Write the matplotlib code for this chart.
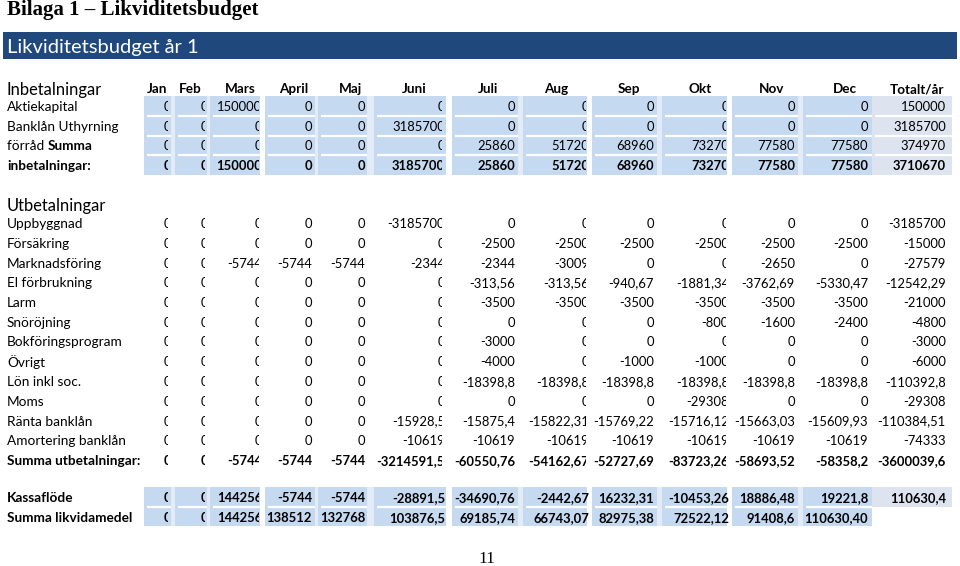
import matplotlib
matplotlib.use("Agg")
import matplotlib.pyplot as plt
from matplotlib.patches import Rectangle
from matplotlib.transforms import Bbox

# ---------------- data ----------------
months = ["Jan", "Feb", "Mars", "April", "Maj", "Juni", "Juli", "Aug", "Sep", "Okt", "Nov", "Dec"]
total_header = "Totalt/år"

title = "Bilaga 1 – Likviditetsbudget"
banner = "Likviditetsbudget år 1"
section_in = "Inbetalningar"
section_out = "Utbetalningar"
page_number = "11"

# Inbetalningar
aktiekapital = [0, 0, 150000, 0, 0, 0, 0, 0, 0, 0, 0, 0]
aktiekapital_tot = 150000
banklan = [0, 0, 0, 0, 0, 3185700, 0, 0, 0, 0, 0, 0]
banklan_tot = 3185700
uthyrning = [0, 0, 0, 0, 0, 0, 25860, 51720, 68960, 73270, 77580, 77580]
uthyrning_tot = 374970
summa_in = [0, 0, 150000, 0, 0, 3185700, 25860, 51720, 68960, 73270, 77580, 77580]
summa_in_tot = 3710670

# Utbetalningar
uppbyggnad = [0, 0, 0, 0, 0, -3185700, 0, 0, 0, 0, 0, 0]
forsakring = [0, 0, 0, 0, 0, 0, -2500, -2500, -2500, -2500, -2500, -2500]
marknadsforing = [0, 0, -5744, -5744, -5744, -2344, -2344, -3009, 0, 0, -2650, 0]
el = [0, 0, 0, 0, 0, 0, -313.56, -313.56, -940.67, -1881.34, -3762.69, -5330.47]
larm = [0, 0, 0, 0, 0, 0, -3500, -3500, -3500, -3500, -3500, -3500]
snorojning = [0, 0, 0, 0, 0, 0, 0, 0, 0, -800, -1600, -2400]
bokforing = [0, 0, 0, 0, 0, 0, -3000, 0, 0, 0, 0, 0]
ovrigt = [0, 0, 0, 0, 0, 0, -4000, 0, -1000, -1000, 0, 0]
lon = [0, 0, 0, 0, 0, 0, -18398.8, -18398.8, -18398.8, -18398.8, -18398.8, -18398.8]
moms = [0, 0, 0, 0, 0, 0, 0, 0, 0, -29308, 0, 0]
ranta = [0, 0, 0, 0, 0, -15928.5, -15875.4, -15822.31, -15769.22, -15716.12, -15663.03, -15609.93]
amortering = [0, 0, 0, 0, 0, -10619, -10619, -10619, -10619, -10619, -10619, -10619]
summa_ut = [0, 0, -5744, -5744, -5744, -3214591.5, -60550.76, -54162.67, -52727.69,
            -83723.26, -58693.52, -58358.2]
out_totals = [-3185700, -15000, -27579, -12542.29, -21000, -4800, -3000, -6000,
              -110392.8, -29308, -110384.51, -74333, -3600039.6]
out_labels = ["Uppbyggnad", "Försäkring", "Marknadsföring", "El förbrukning", "Larm",
              "Snöröjning", "Bokföringsprogram", "Övrigt", "Lön inkl soc.", "Moms",
              "Ränta banklån", "Amortering banklån", "Summa utbetalningar:"]

# Kassaflöde
kassaflode = [0, 0, 144256, -5744, -5744, -28891.5, -34690.76, -2442.67, 16232.31,
              -10453.26, 18886.48, 19221.8]
kassaflode_tot = 110630.4
likvida = [0, 0, 144256, 138512, 132768, 103876.5, 69185.74, 66743.07, 82975.38,
           72522.12, 91408.6, 110630.40]
likvida_decimals = [None] * 11 + [2]   # last value shown as "110630,40"

# ---------------- layout / style ----------------
W, H = 960, 566
FONT = ["Lato", "DejaVu Sans"]
SERIF = ["Liberation Serif", "DejaVu Serif"]
BLUE_DARK = "#1F497D"
CELL = "#C5D9F1"
CELL_TOT = "#DDE3EF"
PALE = "#E3EBF6"

col_left = [144, 175, 210, 265, 318, 374, 452, 523, 592, 662, 732, 803, 872]
col_right = [171, 207, 260, 315, 367, 446, 518, 587, 657, 727, 798, 872, 952]
text_right = [171, 208, 262, 312, 365, 445, 515, 589, 654, 729, 795, 868, 946]
clipped_top = [True, True, True, False, False, True, False, True, False, True, False, False, False]
clipped_bottom = [True, True, True, False, False, False, False, False, False, False, False, False, False]
header_x = [157, 190, 240, 294, 350, 414, 488, 556, 629, 700, 772, 845, 917]
white_gaps = [(260, 265), (445, 452), (587, 592), (727, 732)]

NUM_SIZE = 9.4
LAB_SIZE = 9.8
HEAD_SIZE = 9.7
SECTION_SIZE = 11.9

fig = plt.figure(figsize=(W / 100, H / 100), dpi=100)
ax = fig.add_axes([0, 0, 1, 1])
ax.set_xlim(0, W)
ax.set_ylim(H, 0)
ax.axis("off")


def fmt(v, dec=None):
    if dec is not None:
        s = f"{v:.{dec}f}"
    elif float(v).is_integer():
        s = str(int(v))
    else:
        s = f"{v:.2f}".rstrip("0").rstrip(".")
    return s.replace(".", ",")


def draw_block(y0, y1, ncols, boundaries, tot_rows=None):
    ax.add_patch(Rectangle((col_left[0], y0), col_right[11] - col_left[0], y1 - y0,
                           facecolor=PALE, edgecolor="none", zorder=0))
    for gx0, gx1 in white_gaps:
        ax.add_patch(Rectangle((gx0, y0), gx1 - gx0, y1 - y0,
                               facecolor="white", edgecolor="none", zorder=0.5))
    for c in range(12):
        ax.add_patch(Rectangle((col_left[c], y0), col_right[c] - col_left[c], y1 - y0,
                               facecolor=CELL, edgecolor="none", zorder=1))
    ty1 = y1 if tot_rows is None else tot_rows
    if ncols == 13:
        ax.add_patch(Rectangle((col_left[12], y0), col_right[12] - col_left[12], ty1 - y0,
                               facecolor=CELL_TOT, edgecolor="none", zorder=1))
    for yb in boundaries:
        for c in range(ncols):
            if c == 12 and yb >= ty1:
                continue
            ax.plot([col_left[c] + 3, col_right[c]], [yb, yb], color="white",
                    lw=1.6, zorder=2, solid_capstyle="butt")


def draw_values(y, values, total=None, bold=False, decimals=None, clipped=clipped_top):
    vals = list(values) + ([total] if total is not None else [])
    for c, v in enumerate(vals):
        dec = decimals[c] if decimals is not None and c < len(decimals) else None
        t = ax.text(text_right[c], y, fmt(v, dec), ha="right", va="center_baseline",
                    fontsize=NUM_SIZE, family=FONT,
                    fontweight="bold" if bold else "normal", zorder=3)
        if clipped[c]:
            xd0 = ax.transData.transform((col_left[c] - 60, 0))[0]
            xd1 = ax.transData.transform((text_right[c] - 3.5, 0))[0]
            t.set_clip_on(True)
            t.set_clip_path(None)
            t.set_clip_box(Bbox.from_extents(xd0, 0, xd1, H))


def draw_label(y, parts, size=LAB_SIZE):
    x = 7
    renderer = fig.canvas.get_renderer()
    for txt, bold in parts:
        t = ax.text(x, y, txt, ha="left", va="center_baseline", fontsize=size, family=FONT,
                    fontweight="bold" if bold else "normal", zorder=3)
        bb = t.get_window_extent(renderer=renderer)
        x = x + bb.width


# title
ax.text(7, 10, title, ha="left", va="center", fontsize=15, family=SERIF,
        fontweight="bold", color="black")
# banner
ax.add_patch(Rectangle((3, 32), 954, 27, facecolor=BLUE_DARK, edgecolor="none"))
ax.text(7, 46, banner, ha="left", va="center_baseline", fontsize=14.5, family=FONT,
        color="white")

# Inbetalningar section
y_head = 88
ax.text(7, y_head, section_in, ha="left", va="center_baseline", fontsize=SECTION_SIZE, family=FONT)
for c, m in enumerate(months + [total_header]):
    ax.text(header_x[c], y_head, m, ha="center", va="center_baseline", fontsize=HEAD_SIZE,
            family=FONT, fontweight="bold")

in_rows_y = [106, 126, 145.5, 165]
draw_block(96, 174.5, 13, [116, 135.5, 155])
draw_label(in_rows_y[0], [("Aktiekapital", False)])
draw_values(in_rows_y[0], aktiekapital, aktiekapital_tot)
draw_label(in_rows_y[1], [("Banklån Uthyrning", False)])
draw_values(in_rows_y[1], banklan, banklan_tot)
draw_label(in_rows_y[2], [("förråd ", False), ("Summa", True)])
draw_values(in_rows_y[2], uthyrning, uthyrning_tot)
draw_label(in_rows_y[3], [("inbetalningar:", True)])
draw_values(in_rows_y[3], summa_in, summa_in_tot, bold=True)

# Utbetalningar section
ax.text(7, 205, section_out, ha="left", va="center_baseline", fontsize=SECTION_SIZE, family=FONT)
out_series = [uppbyggnad, forsakring, marknadsforing, el, larm, snorojning, bokforing,
              ovrigt, lon, moms, ranta, amortering, summa_ut]
for k, (lab, ser, tot) in enumerate(zip(out_labels, out_series, out_totals)):
    y = 223 + 19.75 * k
    bold = k == len(out_labels) - 1
    draw_label(y, [(lab, bold)])
    draw_values(y, ser, tot, bold=bold)

# Kassaflöde section
draw_block(487, 526, 13, [507], tot_rows=507)
draw_label(497, [("Kassaflöde", True)])
draw_values(497, kassaflode, kassaflode_tot, bold=True, clipped=clipped_bottom)
draw_label(517, [("Summa likvidamedel", True)])
draw_values(517, likvida, None, bold=True, decimals=likvida_decimals, clipped=clipped_bottom)

# page number
ax.text(487, 559, page_number, ha="center", va="center", fontsize=12.5, family=SERIF)

fig.savefig("out.png", dpi=100)
